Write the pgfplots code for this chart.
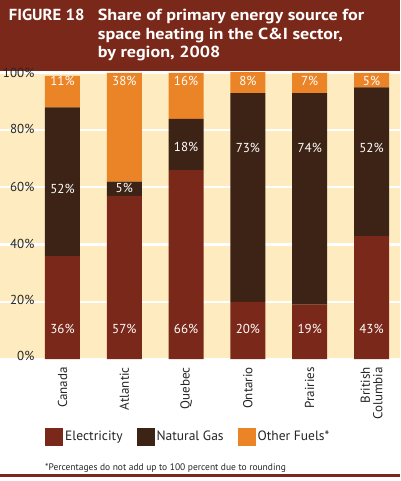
\documentclass[border=0pt]{standalone}
\usepackage{pgfplots}
\pgfplotsset{compat=1.18}
\usepackage{pgfplotstable}
\usepackage{fontspec}
\setmainfont{PT Sans}
\newfontfamily\titlefont[FakeStretch=1.13]{PT Sans Bold}
\newfontfamily\figfont[FakeStretch=1.04]{PT Sans Bold}
\definecolor{titlered}{HTML}{7A2819}
\definecolor{elec}{HTML}{7A2819}
\definecolor{gas}{HTML}{3D2315}
\definecolor{other}{HTML}{EB8427}
\definecolor{cream}{HTML}{FEEBBF}
\pgfplotstableread{
x elec gas other
0 36 52 11
1 57 5 38
2 66 18 16
3 20 73 8
4 19 74 7
5 43 52 5
}\shares
\pgfplotstableread{
x y lab
0 10.5 36
1 10.5 57
2 10.5 66
3 10.5 20
4 10.5 19
5 10.5 43
0 59.4 52
1 59.8 5
2 74.1 18
3 73.8 73
4 73.8 74
5 73.8 52
0 97.2 11
1 97.2 38
2 97.2 16
3 97.2 8
4 97.2 7
5 97.2 5
}\labels
\begin{document}
\begin{tikzpicture}
\fill[white] (0pt,-122pt) rectangle (400pt,359pt);
\fill[titlered] (0pt,288pt) rectangle (400pt,359pt);
\fill[titlered] (0pt,-118.3pt) rectangle (400pt,-115.3pt);
\begin{scope}[every node/.style={anchor=base west, inner sep=0pt, text=white, font=\titlefont\fontsize{16}{18}\selectfont}]
\node[font=\figfont\fontsize{16}{18}\selectfont] at (8.7pt,338.3pt) {FIGURE 18};
\node at (97.7pt,338.3pt) {Share of primary energy source for};
\node at (97.7pt,319.7pt) {space heating in the C\&I sector,};
\node at (97.7pt,301.7pt) {by region, 2008};
\end{scope}
\node[anchor=base west, inner sep=0pt, font=\fontsize{9.5}{11}\selectfont, text=black!85] at (45pt,-111pt) {*Percentages do not add up to 100 percent due to rounding};
\begin{axis}[
  at={(0pt,0pt)}, anchor=south west, scale only axis,
  width=400pt, height=286pt,
  xmin=-1.011, xmax=5.461, ymin=0, ymax=100,
  enlargelimits=false,
  ybar stacked, bar width=0.566,
  axis background/.style={fill=cream},
  axis line style={draw=none},
  major tick length=0pt,
  ymajorgrids, major grid style={white, line width=2.2pt},
  ytick={0,20,40,60,80,100},
  yticklabels={\raisebox{6pt}{0\%},\raisebox{4pt}{20\%},\raisebox{1pt}{40\%},60\%,\raisebox{2pt}{80\%},\raisebox{-3pt}{100\%}},
  yticklabel style={anchor=east, inner sep=0pt, xshift=34.5pt, font=\fontsize{13}{15}\selectfont, text=black!85},
  xtick={0,1,2,3,4,5},
  xticklabels={Canada,Atlantic,Quebec,Ontario,Prairies,{British\\Columbia}},
  xticklabel style={yshift=-8pt, rotate=90, anchor=east, align=right, inner sep=0pt, font=\fontsize{13}{12.5}\selectfont, text=black!85},
  legend style={at={(0.1125,-0.2717)}, anchor=west, draw=none, fill=none, legend columns=3, font=\fontsize{13.5}{15}\selectfont, text=black!85, inner sep=0pt, /tikz/every even column/.append style={column sep=12pt}},
  legend image code/.code={\fill[#1] (0pt,-9pt) rectangle (18pt,9pt);},
  legend cell align=left,
]
\addplot[fill=elec, draw=none] table[x=x, y=elec] {\shares};
\addlegendentry{Electricity}
\addplot[fill=gas, draw=none] table[x=x, y=gas] {\shares};
\addlegendentry{Natural Gas}
\addplot[fill=other, draw=none] table[x=x, y=other] {\shares};
\addlegendentry{Other Fuels*}
\end{axis}
\begin{axis}[
  at={(0pt,0pt)}, anchor=south west, scale only axis,
  width=400pt, height=286pt,
  xmin=-1.011, xmax=5.461, ymin=0, ymax=100,
  enlargelimits=false, hide axis,
]
\addplot[only marks, mark=none, nodes near coords={\pgfplotspointmeta\%}, point meta=explicit symbolic,
  every node near coord/.append style={anchor=center, text=white, font=\fontsize{13}{15}\selectfont}]
  table[x=x, y=y, meta=lab] {\labels};
\end{axis}
\pgfresetboundingbox
\useasboundingbox (0pt,-122pt) rectangle (400pt,359pt);
\end{tikzpicture}
\end{document}
